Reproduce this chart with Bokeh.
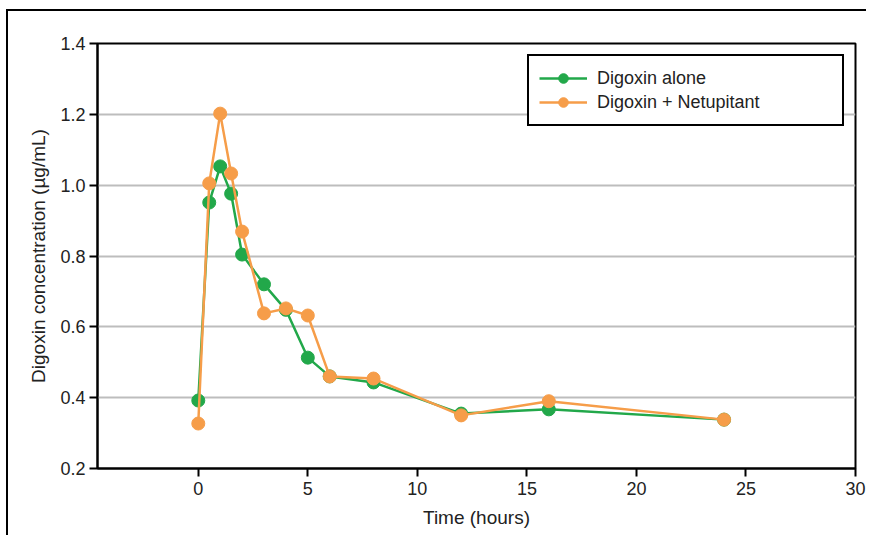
from bokeh.plotting import figure
from bokeh.models import ColumnDataSource, FixedTicker, PrintfTickFormatter, Range1d, Legend, LegendItem
from bokeh.embed import file_html
from bokeh.resources import INLINE

time_h = [0, 0.5, 1, 1.5, 2, 3, 4, 5, 6, 8, 12, 16, 24]
digoxin_alone = [0.392, 0.951, 1.053, 0.976, 0.804, 0.720, 0.648, 0.513, 0.460, 0.443, 0.355, 0.367, 0.338]
digoxin_netupitant = [0.327, 1.005, 1.202, 1.033, 0.869, 0.638, 0.652, 0.632, 0.460, 0.454, 0.350, 0.390, 0.338]
x_ticks = [0, 5, 10, 15, 20, 25, 30]
y_ticks = [0.2, 0.4, 0.6, 0.8, 1.0, 1.2, 1.4]

GREEN = "#22A84A"
ORANGE = "#F69D49"
FONT = "Liberation Sans"

src = ColumnDataSource(dict(t=time_h, a=digoxin_alone, b=digoxin_netupitant))

p = figure(width=860, height=526, output_backend="svg", toolbar_location=None,
           x_range=Range1d(-4.6, 30), y_range=Range1d(0.2, 1.4),
           min_border_left=89, min_border_right=13, min_border_top=32, min_border_bottom=69,
           margin=(9, 0, 0, 6))
p.styles = {"border-left": "2px solid black", "border-top": "2px solid black"}
p.background_fill_color = "white"
p.border_fill_color = "white"
p.outline_line_color = "black"
p.outline_line_width = 2
p.outline_line_alpha = 1

p.xgrid.visible = False
p.ygrid.grid_line_color = "#BDBDBD"
p.ygrid.grid_line_width = 2
p.ygrid.ticker = FixedTicker(ticks=y_ticks)

p.xaxis.ticker = FixedTicker(ticks=x_ticks)
p.yaxis.ticker = FixedTicker(ticks=y_ticks)
p.yaxis.formatter = PrintfTickFormatter(format="%.1f")
for ax in (p.xaxis[0], p.yaxis[0]):
    ax.axis_line_width = 2
    ax.axis_line_color = "black"
    ax.major_tick_line_width = 2
    ax.major_tick_line_color = "black"
    ax.major_tick_out = 8
    ax.major_tick_in = 0
    ax.minor_tick_line_color = None
    ax.major_label_text_font = FONT
    ax.major_label_text_font_size = "18px"
    ax.major_label_text_color = "#222222"
    ax.axis_label_text_font = FONT
    ax.axis_label_text_font_size = "19px"
    ax.axis_label_text_font_style = "normal"
    ax.axis_label_text_color = "#222222"
p.xaxis.axis_label = "Time (hours)"
p.yaxis.axis_label = "Digoxin concentration (µg/mL)"
p.xaxis.major_label_standoff = 5
p.yaxis.major_label_standoff = 4
p.xaxis.axis_label_standoff = 9
p.yaxis.axis_label_standoff = 8

la = p.line("t", "a", source=src, line_color=GREEN, line_width=2.5)
sa = p.scatter("t", "a", source=src, size=13, fill_color=GREEN, line_color=GREEN)
lb = p.line("t", "b", source=src, line_color=ORANGE, line_width=2.5)
sb = p.scatter("t", "b", source=src, size=13, fill_color=ORANGE, line_color=ORANGE)

legend = Legend(items=[LegendItem(label="Digoxin alone", renderers=[la, sa]),
                       LegendItem(label="Digoxin + Netupitant", renderers=[lb, sb])],
                location=(430, 342))
legend.border_line_color = "black"
legend.border_line_width = 2
legend.border_line_alpha = 1
legend.background_fill_color = "white"
legend.background_fill_alpha = 1
legend.label_text_font = FONT
legend.label_text_font_size = "18px"
legend.label_text_color = "#222222"
legend.glyph_width = 48
legend.glyph_height = 24
legend.label_height = 20
legend.label_width = 235
legend.label_standoff = 10
legend.padding = 10
legend.spacing = 0
legend.margin = 0
p.add_layout(legend, "center")

open("out.html", "w").write(file_html(p, INLINE))
